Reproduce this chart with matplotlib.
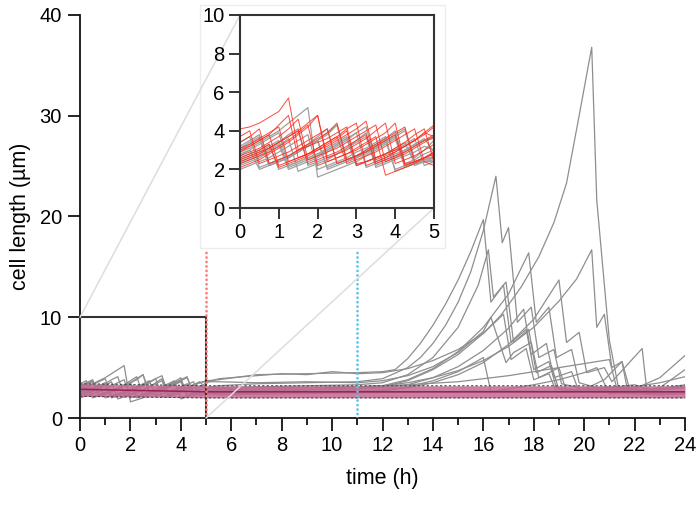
import numpy as np
import matplotlib
matplotlib.use('Agg')
import matplotlib.pyplot as plt
from matplotlib.patches import Rectangle, ConnectionPatch

plt.rcParams['font.family'] = ['Liberation Sans', 'DejaVu Sans']

# ---------------- data ----------------
t_early = np.arange(0, 5.01, 0.25)

# gray cells, 0-5 h (sampled every 0.25 h)
g_early = [
    [2.5,2.7,2.9,3.2,3.5,2.1,2.3,2.5,2.7,3.0,3.3,3.6,2.2,2.4,2.6,2.8,3.1,3.4,2.3,2.4,2.6],
    [3.0,3.3,3.6,2.2,2.4,2.6,2.9,3.2,3.5,3.9,4.3,2.4,2.6,2.8,3.1,3.4,3.7,2.3,2.5,2.8,3.0],
    [2.2,2.4,2.6,2.9,3.2,3.6,1.9,2.1,2.3,2.5,2.8,3.1,3.5,3.9,2.2,2.4,2.6,2.9,3.2,3.5,3.7],
    [2.9,3.1,3.4,3.7,4.0,4.4,4.8,5.2,1.6,1.8,2.0,2.2,2.4,2.7,3.0,3.3,3.6,2.1,2.3,2.5,2.7],
    [2.7,3.0,2.0,2.2,2.4,2.6,2.9,3.2,3.5,2.1,2.3,2.5,2.7,3.0,3.3,3.6,4.0,2.2,2.4,2.6,2.6],
    [3.4,3.7,2.1,2.3,2.5,2.7,3.0,3.3,3.7,4.1,2.3,2.5,2.7,2.9,3.2,3.5,2.0,2.2,2.3,2.4,2.4],
    [2.4,2.6,2.8,3.1,3.4,3.8,4.1,2.2,2.4,2.6,2.8,3.1,3.4,3.7,2.1,2.3,2.5,2.7,2.9,3.2,3.0],
    [2.0,2.2,2.4,2.6,2.9,3.2,3.5,3.8,2.0,2.2,2.4,2.6,2.9,3.1,3.4,3.7,1.9,2.1,2.3,2.5,2.6],
    [3.1,3.4,3.7,2.2,2.4,2.6,2.9,3.2,3.5,3.8,4.3,2.5,2.7,2.9,3.1,3.4,3.7,4.0,2.6,3.0,3.5],
    [2.6,2.8,3.0,3.3,2.0,2.2,2.4,2.6,2.8,3.1,3.4,3.7,2.2,2.4,2.6,2.8,3.0,3.3,3.6,2.2,2.4],
    [3.2,3.5,3.8,2.3,2.5,2.7,2.9,3.2,3.5,2.0,2.2,2.4,2.6,2.9,3.2,3.5,3.8,4.1,2.2,2.4,2.5],
    [2.3,2.5,2.7,3.0,3.3,2.0,2.2,2.4,2.6,2.9,3.2,3.5,3.9,2.1,2.3,2.5,2.7,3.0,3.3,3.6,2.9],
    [2.8,3.0,3.3,3.6,3.9,2.2,2.4,2.6,2.8,3.0,3.3,3.6,3.9,4.2,2.4,2.6,2.8,3.0,3.3,3.5,3.6],
]

# gray cells, after 5 h (time, length)
g_late_t = [
    [5.5,7,9,11,12,13,14,15,16,16.7,17.5,18.2,18.8,19.3,19.8,20.3,20.5,21.0,21.4,22,23,24],
    [5.5,7,9,11,12,13,13.5,14,14.5,15,15.5,16,16.5,16.75,17.0,17.35,17.9,18.2,18.8,19.1,19.8,21,22,23,24],
    [5.5,7,9,11,12,12.5,13,13.5,14,14.5,15,15.5,16.0,16.3,16.8,17.1,17.7,18.0,18.6,18.9,19.6,20.5,22,23,24],
    [5.5,9,11,12,13,14,15,16,17,18,19,19.7,20.3,20.5,20.8,21.1,21.5,21.8,22.5,24],
    [5.5,9,11,12,13,14,15,16,17,17.8,18.1,18.6,18.9,19.5,19.8,20.5,22,23,24],
    [5.5,11,12,13,14,15,16,17,18,19.0,19.3,19.8,20.1,20.8,21.1,22.3,22.5,23,24],
    [5.5,9,11,12,13,14,15,15.8,16.2,16.4,16.9,17.2,17.8,18.1,18.7,19.0,20,21,22,23,24],
    [5.5,11,12,13,14,15,16,17,17.6,17.9,18.5,18.8,19.5,19.8,20.8,21.5,21.7,22.5,23,24],
    [5.5,7,8,9,10,11,12,13,14,15,16,16.8,17.1,17.7,18.0,18.6,18.9,19.5,20,21,22,23,24],
    [5.5,11,12,13,14,15,16.0,16.3,17,18,19,20,20.5,21,22,23,24],
    [5.5,8,11,14,17,20,22,24],
    [5.5,8,11,13,15,17,19,21,21.3,23,24],
    [5.5,7,9,11,12,13,14,15,16,16.3,16.9,17.2,17.9,18.2,19.0,19.3,20,21,22,23,24],
]
g_late_y = [
    [2.6,2.7,2.8,2.9,3.1,3.7,4.8,6.3,8.4,10.2,13.0,16.0,19.4,23.3,30.0,36.8,21.6,7.7,2.5,2.4,2.3,2.4],
    [3.2,3.4,3.5,3.6,3.9,5.0,6.0,7.4,9.2,11.5,14.5,18.6,24.0,17.4,18.9,9.5,11.0,6.0,6.8,3.4,3.0,2.8,2.6,2.8,3.2],
    [3.8,4.3,4.4,4.5,4.6,4.8,5.9,7.4,9.2,11.3,13.7,16.5,19.7,11.5,13.2,7.5,8.8,4.8,5.6,3.0,2.8,2.7,2.9,4.0,6.2],
    [2.8,3.0,3.1,3.2,3.5,4.0,4.7,5.7,7.1,9.0,11.6,13.8,16.7,9.0,10.3,5.0,5.6,2.9,2.4,2.5],
    [2.6,2.8,3.0,3.2,3.8,4.9,6.6,9.0,12.3,16.4,9.5,11.0,6.0,6.8,3.5,3.0,2.7,3.0,4.8],
    [2.4,2.6,2.7,3.0,3.5,4.3,5.5,7.3,9.8,13.7,7.5,8.5,4.5,5.0,3.6,6.9,2.4,2.5,2.6],
    [3.0,3.2,3.3,3.5,4.3,6.0,9.0,13.2,16.7,12.0,13.5,7.5,8.8,4.5,5.2,2.8,2.6,2.9,3.1,3.5,4.1],
    [2.7,2.9,3.0,3.3,4.0,5.1,6.7,8.9,10.8,6.3,7.4,4.0,4.6,2.6,3.8,5.6,3.0,2.5,2.4,2.5],
    [3.9,4.2,4.4,4.3,4.6,4.4,4.5,4.9,5.7,6.8,8.4,10.3,5.8,6.9,3.8,4.4,2.6,2.7,2.9,3.1,2.8,2.9,3.0],
    [2.5,2.7,2.8,3.1,3.7,4.6,6.0,2.6,2.9,3.3,3.8,4.5,5.0,2.4,2.6,2.9,3.3],
    [2.3,2.4,2.5,2.6,2.7,2.6,2.5,2.5],
    [2.9,3.0,3.1,3.3,3.6,4.2,5.0,5.8,2.9,2.8,3.0],
    [3.6,3.5,3.6,3.5,3.7,4.2,5.1,6.5,8.6,10.0,5.5,6.5,7.5,4.0,5.0,2.6,2.8,3.0,3.3,2.5,2.6],
]

# red cells (inset only), 0-5 h
r_early = [
    [4.1,4.2,4.4,4.7,5.0,5.7,3.0,3.2,3.4,3.6,3.9,4.2,2.3,2.4,2.6,2.8,3.0,3.2,3.5,3.8,4.2],
    [2.4,2.6,2.8,3.1,3.4,3.7,4.0,4.4,4.8,2.6,2.8,3.0,3.3,3.6,4.0,4.4,2.3,2.5,2.7,3.0,3.3],
    [3.4,3.7,4.1,2.3,2.5,2.7,3.0,3.3,3.6,3.9,4.4,2.5,2.7,2.9,3.2,3.5,3.8,2.2,2.4,2.6,2.8],
    [2.1,2.3,2.5,2.8,3.1,3.4,3.8,4.2,4.8,2.4,2.6,2.8,3.0,3.3,3.6,3.9,4.4,2.3,2.4,2.6,2.9],
    [2.9,3.2,3.5,3.8,4.3,4.8,2.6,2.8,3.0,3.2,3.5,3.8,4.1,4.5,2.5,2.7,2.9,3.2,3.5,3.9,4.3],
    [2.6,2.8,3.0,3.3,2.1,2.3,2.5,2.7,3.0,3.3,3.6,4.0,2.2,2.4,2.6,2.8,3.1,3.4,3.8,4.1,2.4],
    [3.1,3.3,3.6,3.9,4.2,2.4,2.6,2.8,3.1,3.4,3.7,4.1,4.4,2.2,2.4,2.6,2.9,3.2,3.5,3.9,3.7],
    [2.3,2.5,2.7,2.9,3.2,3.5,3.9,4.3,2.2,2.4,2.6,2.8,3.1,3.4,3.7,1.7,1.9,2.1,2.3,2.6,2.9],
    [3.7,4.0,2.3,2.5,2.7,2.9,3.2,3.5,3.8,4.1,2.3,2.5,2.7,3.0,3.3,3.6,3.9,4.2,2.4,2.6,2.8],
    [2.7,2.9,3.1,3.4,3.7,4.1,4.6,2.5,2.7,2.9,3.1,3.4,3.7,4.0,4.3,2.4,2.6,2.8,3.1,3.4,3.7],
    [2.5,2.7,2.9,3.1,3.4,3.7,4.0,2.3,2.5,2.7,2.9,3.2,3.5,3.8,2.3,2.5,2.7,2.9,3.2,3.5,3.8],
    [3.0,3.2,3.5,3.8,2.2,2.4,2.6,2.8,3.1,3.4,3.7,2.3,2.5,2.7,2.9,3.2,3.5,3.8,4.1,2.4,2.2],
]

# population band (mean +/- spread)
band_t = [0, 5, 24]
band_mean = [2.85, 2.6, 2.6]
band_lo = [2.15, 2.0, 2.0]
band_hi = [3.4, 3.2, 3.2]

# markers
red_time = 5
blue_time = 11
marker_top = 16.6

xticks_major = list(range(0, 25, 2))
xticks_minor = list(range(1, 24, 2))
yticks_main = [0, 10, 20, 30, 40]

# ---------------- figure ----------------
fig = plt.figure(figsize=(7, 5.15), dpi=100)
ax = fig.add_axes([80/700, 97/515, 605/700, 403/515])
ax.set_zorder(0)

for ye, tl, yl in zip(g_early, g_late_t, g_late_y):
    tt = np.concatenate([t_early, tl])
    yy = np.concatenate([ye, yl])
    ax.plot(tt, yy, color='#8e8e8e', lw=0.9, zorder=2)

ax.fill_between(band_t, band_lo, band_hi, color='#c06a93', alpha=0.85, lw=0, zorder=4)
ax.plot(band_t, band_lo, color='#444444', lw=0.8, ls=(0, (2, 2)), zorder=4.5)
ax.plot(band_t, band_hi, color='#444444', lw=0.8, ls=(0, (2, 2)), zorder=4.5)
ax.plot(band_t, band_mean, color='#9e1f55', lw=1.1, zorder=4.6)

ax.add_patch(Rectangle((0, 0), 5, 10, fill=False, edgecolor='#333333', lw=1.5, zorder=5))
ax.plot([red_time, red_time], [0, marker_top], color='#ff7a7a', lw=2.0,
        ls=(0, (0.01, 1.6)), dash_capstyle='round', zorder=6)
ax.plot([blue_time, blue_time], [0, marker_top], color='#5cc4f0', lw=2.0,
        ls=(0, (0.01, 1.6)), dash_capstyle='round', zorder=6)

ax.set_xlim(0, 24)
ax.set_ylim(0, 40)
ax.set_xticks(xticks_major)
ax.set_xticks(xticks_minor, minor=True)
ax.set_yticks(yticks_main)
for s in ['top', 'right']:
    ax.spines[s].set_visible(False)
for s in ['left', 'bottom']:
    ax.spines[s].set_linewidth(1.3)
    ax.spines[s].set_color('#111111')
ax.tick_params(axis='both', which='major', length=9, width=1.3, labelsize=14.5,
               pad=4, direction='out', color='#111111')
ax.tick_params(axis='x', which='minor', length=5, width=1.3, color='#111111')
ax.set_xlabel('time (h)', fontsize=15.5, labelpad=9)
ax.set_ylabel('cell length (µm)', fontsize=15.5, labelpad=6)

# inset background box
box = Rectangle((200/700, 267/515), 245/700, 243/515, transform=fig.transFigure,
                facecolor='white', edgecolor='#ececec', lw=1, zorder=1)
fig.add_artist(box)

axins = fig.add_axes([240/700, 307/515, 194/700, 193/515])
axins.set_zorder(3)
for ye in g_early:
    axins.plot(t_early, ye, color='#a0a0a0', lw=0.9)
for ye in r_early:
    axins.plot(t_early, ye, color='#ff2a1a', lw=0.7, alpha=0.85)
axins.set_xlim(0, 5)
axins.set_ylim(0, 10)
axins.set_xticks(range(0, 6))
axins.set_yticks(range(0, 11, 2))
for s in axins.spines.values():
    s.set_linewidth(1.5)
    s.set_color('#333333')
axins.tick_params(axis='both', length=8, width=1.4, labelsize=14.5, pad=3,
                  direction='out', color='#333333')

for xyA, xyB in [((0, 10), (0, 1)), ((5, 0), (1, 0))]:
    con = ConnectionPatch(xyA=xyA, coordsA=ax.transData, xyB=xyB, coordsB=axins.transAxes,
                          color='#dddddd', lw=1.1)
    con.set_zorder(2)
    fig.add_artist(con)

fig.savefig('out.png', dpi=100)
